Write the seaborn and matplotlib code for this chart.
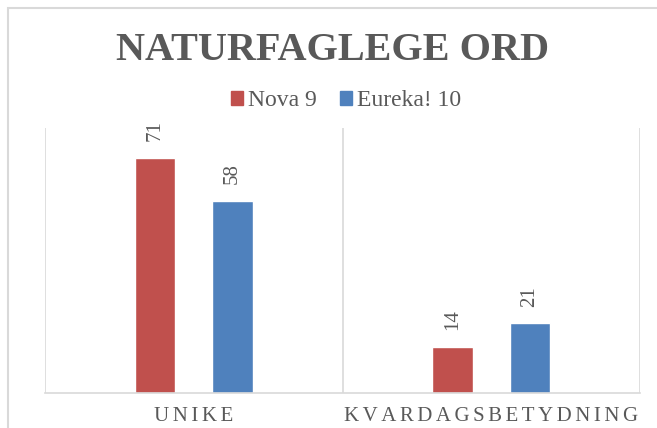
import matplotlib.pyplot as plt
import pandas as pd
import seaborn as sns
from matplotlib.patches import Rectangle, Patch

categories = ["UNIKE", "KVARDAGSBETYDNING"]
series = ["Nova 9", "Eureka! 10"]
nova = [71, 14]
eureka = [58, 21]
colors = ["#C0504D", "#4F81BD"]

df = pd.DataFrame({
    "Kategori": categories * 2,
    "Bok": [series[0]] * 2 + [series[1]] * 2,
    "Ord": nova + eureka,
})


def spaced(s, n=1):
    # letter spacing with hair spaces
    return ("\u200a" * n).join(s)


sns.set_style("white")
plt.rcParams["font.family"] = ["Liberation Serif", "DejaVu Serif"]
grey = "#595959"

fig = plt.figure(figsize=(6.57, 4.28), dpi=100)
ax = fig.add_axes([45 / 657, 35 / 428, 595 / 657, 265 / 428])
sns.barplot(data=df, x="Kategori", y="Ord", hue="Bok", palette=colors,
            width=0.52, gap=0.48, saturation=1, legend=False, ax=ax)

for c in ax.containers:
    ax.bar_label(c, rotation=90, padding=12, color=grey, fontsize=15)

ax.set_xlim(-0.5, 1.5)
ax.set_ylim(0, 80)
ax.vlines([-0.5, 0.5, 1.5], 0, 80, color="#D9D9D9", lw=1.2)
for s in ["top", "left", "right"]:
    ax.spines[s].set_visible(False)
ax.spines["bottom"].set_color("#D9D9D9")
ax.spines["bottom"].set_linewidth(1.2)
ax.set_yticks([])
ax.set_xticks(range(len(categories)))
ax.set_xticklabels([spaced(c, 2) for c in categories], fontsize=15, color=grey)
ax.tick_params(axis="x", length=0, pad=10)
ax.set_xlabel("")
ax.set_ylabel("")

fig.text(333 / 657, 1 - 51 / 428, "NATURFAGLEGE ORD", ha="center", va="center",
         fontsize=29, fontweight="bold", color=grey)

handles = [Patch(color=colors[0], label=series[0]), Patch(color=colors[1], label=series[1])]
fig.legend(handles=handles, loc="center", bbox_to_anchor=(346 / 657, 1 - 101 / 428), ncol=2,
           frameon=False, fontsize=17, handlelength=0.5, handleheight=0.5,
           handletextpad=0.2, columnspacing=1.0, labelcolor=grey)

fig.add_artist(Rectangle((8 / 657, -0.1), 1.2, 1.1 - 8 / 428, transform=fig.transFigure,
                         fill=False, ec="#D9D9D9", lw=1.5))

plt.savefig("out.png", dpi=100)
